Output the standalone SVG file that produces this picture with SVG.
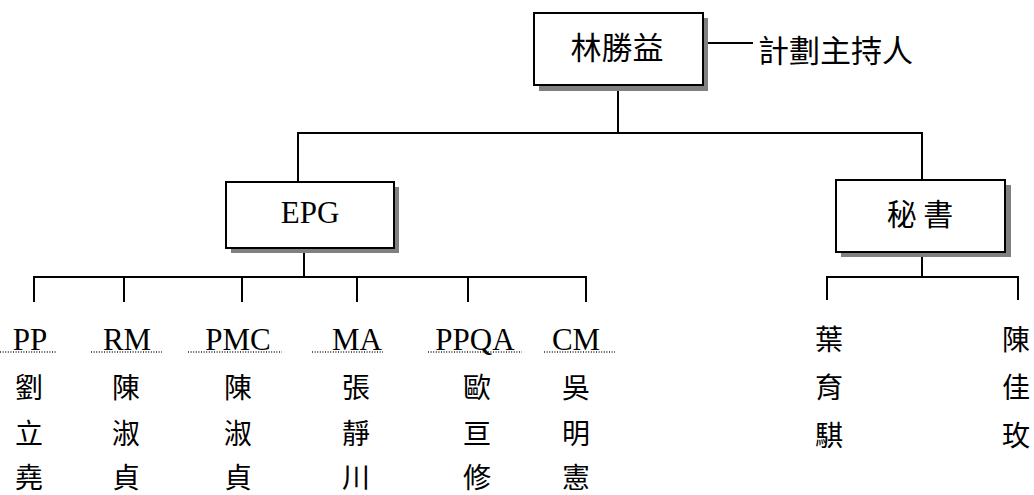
<svg xmlns="http://www.w3.org/2000/svg" width="1034" height="495" viewBox="0 0 1034 495">
<style>
.box{fill:#fff;stroke:#000;stroke-width:2}
.shadow{fill:#808080}
.ln{stroke:#000;stroke-width:2;fill:none}
.dot{stroke:#222;stroke-width:1.3;stroke-dasharray:1 1.6;fill:none}
.cjk{font-family:"Noto Sans CJK TC","Noto Sans CJK SC",sans-serif;fill:#000}
.lat{font-family:"Liberation Serif",serif;fill:#000}
.nm{font-size:28px;text-anchor:middle}
.lb{font-size:31px;text-anchor:middle}
</style>
<rect width="1034" height="495" fill="#fff"/>
<g id="connectors">
<line class="ln" x1="703" y1="43" x2="753" y2="43"/>
<line class="ln" x1="618" y1="91" x2="618" y2="133"/>
<line class="ln" x1="297" y1="133" x2="923" y2="133"/>
<line class="ln" x1="298" y1="133" x2="298" y2="182"/>
<line class="ln" x1="922" y1="133" x2="922" y2="180"/>
<line class="ln" x1="304" y1="253" x2="304" y2="277"/>
<line class="ln" x1="33" y1="277" x2="587" y2="277"/>
<line class="ln" x1="34" y1="276" x2="34" y2="302"/>
<line class="ln" x1="124" y1="276" x2="124" y2="302"/>
<line class="ln" x1="242" y1="276" x2="242" y2="302"/>
<line class="ln" x1="357" y1="276" x2="357" y2="302"/>
<line class="ln" x1="468" y1="276" x2="468" y2="302"/>
<line class="ln" x1="586" y1="276" x2="586" y2="302"/>
<line class="ln" x1="922" y1="257" x2="922" y2="277"/>
<line class="ln" x1="826" y1="277" x2="1019" y2="277"/>
<line class="ln" x1="827" y1="276" x2="827" y2="300"/>
<line class="ln" x1="1018" y1="276" x2="1018" y2="300"/>
</g>
<g id="node-leader">
<rect class="shadow" x="539" y="18" width="169" height="73"/>
<rect class="box" x="534" y="13" width="169" height="72"/>
<text class="cjk" x="617" y="59" font-size="31" text-anchor="middle">林勝益</text>
</g>
<g id="label-role">
<text class="cjk" x="758" y="62" font-size="31">計劃主持人</text>
</g>
<g id="node-epg">
<rect class="shadow" x="231" y="187" width="168" height="66"/>
<rect class="box" x="226" y="182" width="168" height="66"/>
<text class="lat" x="310" y="223" font-size="31" text-anchor="middle">EPG</text>
</g>
<g id="node-secretary">
<rect class="shadow" x="841" y="185" width="170" height="72"/>
<rect class="box" x="836" y="180" width="169" height="72"/>
<text class="cjk" x="920" y="225" font-size="30" text-anchor="middle">秘 書</text>
</g>
<g id="node-pp">
<text class="lat lb" x="30" y="350">PP</text>
<line class="dot" x1="0" y1="352" x2="57" y2="352"/>
<text class="cjk nm" x="29" y="398">劉</text>
<text class="cjk nm" x="29" y="444">立</text>
<text class="cjk nm" x="29" y="488">堯</text>
</g>
<g id="node-rm">
<text class="lat lb" x="127" y="350">RM</text>
<line class="dot" x1="91" y1="352" x2="162" y2="352"/>
<text class="cjk nm" x="126" y="398">陳</text>
<text class="cjk nm" x="126" y="444">淑</text>
<text class="cjk nm" x="126" y="488">貞</text>
</g>
<g id="node-pmc">
<text class="lat lb" x="238" y="350">PMC</text>
<line class="dot" x1="188" y1="352" x2="282" y2="352"/>
<text class="cjk nm" x="238" y="398">陳</text>
<text class="cjk nm" x="238" y="444">淑</text>
<text class="cjk nm" x="238" y="488">貞</text>
</g>
<g id="node-ma">
<text class="lat lb" x="357" y="350">MA</text>
<line class="dot" x1="312" y1="352" x2="383" y2="352"/>
<text class="cjk nm" x="356" y="398">張</text>
<text class="cjk nm" x="356" y="444">靜</text>
<text class="cjk nm" x="356" y="488">川</text>
</g>
<g id="node-ppqa">
<text class="lat lb" x="475" y="350">PPQA</text>
<line class="dot" x1="428" y1="352" x2="522" y2="352"/>
<text class="cjk nm" x="477" y="398">歐</text>
<text class="cjk nm" x="477" y="444">亘</text>
<text class="cjk nm" x="477" y="488">修</text>
</g>
<g id="node-cm">
<text class="lat lb" x="576" y="350">CM</text>
<line class="dot" x1="544" y1="352" x2="615" y2="352"/>
<text class="cjk nm" x="576" y="398">吳</text>
<text class="cjk nm" x="576" y="444">明</text>
<text class="cjk nm" x="576" y="488">憲</text>
</g>
<g id="node-sec1">
<text class="cjk nm" x="829" y="350">葉</text>
<text class="cjk nm" x="829" y="398">育</text>
<text class="cjk nm" x="829" y="446">騏</text>
</g>
<g id="node-sec2">
<text class="cjk nm" x="1016" y="350">陳</text>
<text class="cjk nm" x="1016" y="398">佳</text>
<text class="cjk nm" x="1016" y="446">玫</text>
</g>
</svg>
